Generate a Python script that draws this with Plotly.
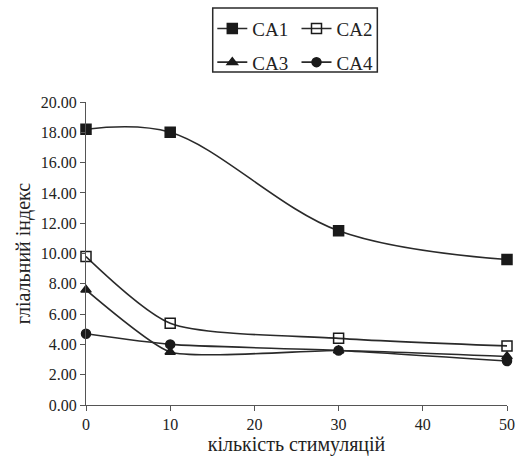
import plotly.graph_objects as go

stimulations = [0, 10, 30, 50]
ca1 = [18.2, 18.0, 11.5, 9.6]
ca2 = [9.8, 5.4, 4.4, 3.9]
ca3 = [7.6, 3.5, 3.6, 3.2]
ca4 = [4.7, 4.0, 3.6, 2.9]

series = [
    ("CA1", ca1, "square", 1.0, "legend"),
    ("CA2", ca2, "square-open", 0.7, "legend2"),
    ("CA3", ca3, "triangle-up", 0.5, "legend"),
    ("CA4", ca4, "circle", 0.6, "legend2"),
]

font_family = "Times New Roman, Liberation Serif, DejaVu Serif, serif"

fig = go.Figure()
for name, vals, sym, sm, lg in series:
    fig.add_trace(go.Scatter(
        x=stimulations, y=vals, name=name, mode="lines+markers",
        line=dict(color="#2a2a2a", width=1.6, shape="spline", smoothing=sm),
        marker=dict(symbol=sym, size=10 if "square" in sym else 9, color="#1a1a1a",
                    line=dict(color="#1a1a1a", width=1.5)),
        cliponaxis=False, legend=lg, legendgroup=name,
    ))

leg_common = dict(
    orientation="v", xanchor="left", yanchor="top",
    bgcolor="rgba(0,0,0,0)", borderwidth=0,
    font=dict(family=font_family, size=19, color="#222"),
    itemwidth=30, tracegroupgap=6,
)
fig.update_layout(
    width=524, height=469,
    margin=dict(l=86, r=9, t=102, b=64),
    paper_bgcolor="white", plot_bgcolor="white",
    font=dict(family=font_family, color="#222", size=16),
    showlegend=True,
    legend=dict(x=0.300, y=1.305, **leg_common),
    legend2=dict(x=0.500, y=1.305, **leg_common),
    shapes=[dict(type="rect", xref="paper", yref="paper",
                 x0=0.301, x1=0.692, y0=1.099, y1=1.310,
                 line=dict(color="#2a2a2a", width=1.5))],
    xaxis=dict(
        range=[0, 50], tickvals=[0, 10, 20, 30, 40, 50],
        showline=True, linecolor="#555", linewidth=1.2,
        ticks="outside", ticklen=5, tickcolor="#555",
        showgrid=False, zeroline=False,
        tickfont=dict(size=16, family=font_family),
        title=dict(text="кількість стимуляцій", font=dict(size=20, family=font_family), standoff=2),
    ),
    yaxis=dict(
        range=[0, 20], tickvals=[0, 2, 4, 6, 8, 10, 12, 14, 16, 18, 20],
        tickformat=".2f",
        showline=True, linecolor="#555", linewidth=1.2,
        ticks="outside", ticklen=5, tickcolor="#555",
        showgrid=False, zeroline=False,
        tickfont=dict(size=16, family=font_family),
        title=dict(text="гліальний індекс", font=dict(size=20, family=font_family), standoff=4),
    ),
)

fig.write_html("out.html")
